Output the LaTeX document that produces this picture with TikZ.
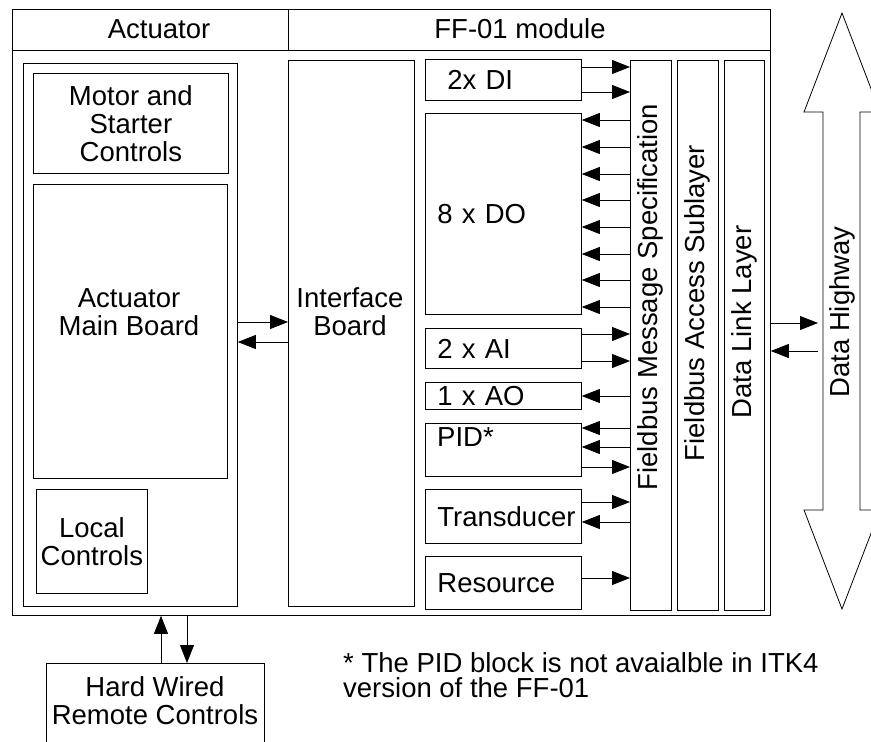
\documentclass[tikz,border=0pt]{standalone}
\usepackage{fontspec}
\setmainfont{Liberation Sans}
\usetikzlibrary{arrows.meta}
\tikzset{
	unit/.style={draw, line width=0.8pt, inner sep=0pt, anchor=north west, align=center, font=\fontsize{27.5}{28}\selectfont},
	fblock/.style={unit, text width=132pt, inner xsep=12pt, align=left, minimum height=#1},
	lbl/.style={inner sep=0pt, align=center, font=\fontsize{27.5}{28}\selectfont},
	vlbl/.style={lbl, rotate=90},
	sig/.style={line width=0.8pt, -{Triangle[length=18pt,width=14pt]}},
}
\newcommand{\unitat}[6] % name, left, top, width, height, text
{
	\node[unit, minimum width=#4pt, minimum height=#5pt] (#1) at (#2,#3) {#6};
}
\begin{document}
\begin{tikzpicture}[x=1pt, y=-1pt]
	\useasboundingbox (0,0) rectangle (871,742);
	\clip (0,0) rectangle (871,742);
	% outer frame with header row
	\unitat{acthdr}{12}{9}{276}{41}{}
	\unitat{ffhdr}{288}{9}{482}{41}{}
	\unitat{body}{12}{50}{758}{565}{}
	\node[lbl] (acthdrtxt) at (159,29) {Actuator};
	\node[lbl] (ffhdrtxt) at (520,29) {FF-01 module};

	% actuator side
	\unitat{act}{23}{63}{214}{543}{}
	\unitat{motor}{33}{73}{195}{100}{Motor and\\Starter\\Controls}
	\unitat{mainbd}{33}{184}{194}{294}{}
	\node[lbl] (mainbdtxt) at (129,312) {Actuator\\Main Board};
	\unitat{local}{36}{489}{111}{104}{Local\\Controls}

	% interface board
	\unitat{ifb}{288}{60}{126}{546}{}
	\node[lbl] (ifbtxt) at (350,312) {Interface\\Board};
	\draw[sig] (act.east |- 0,322) -- (ifb.west |- 0,322);
	\draw[sig] (ifb.west |- 0,342) -- (act.east |- 0,342);

	% function blocks
	\node[fblock=41pt] (di) at (425,59) {\hspace*{10pt}2x DI};
	\node[fblock=201pt] (dout) at (425,113) {8 x DO};
	\node[fblock=40pt] (ai) at (425,328) {2 x AI};
	\node[fblock=27pt] (ao) at (425,382) {1 x AO};
	\node[fblock=53pt] (pid) at (425,423) {};
	\node[lbl, anchor=west] (pidtxt) at (437,437) {PID*};
	\node[fblock=54pt] (trans) at (425,489) {Transducer};
	\node[fblock=53pt] (res) at (425,556) {Resource};

	% stack layers
	\unitat{fms}{630}{60}{41}{550}{}
	\unitat{fas}{677}{60}{41}{550}{}
	\unitat{dll}{724}{60}{40}{550}{}
	\node[vlbl] (fmstxt) at (650.5,297) {Fieldbus Message Specification};
	\node[vlbl] (fastxt) at (697.5,303) {Fieldbus Access Sublayer};
	\node[vlbl] (dlltxt) at (744,322) {Data Link Layer};

	% block <-> FMS signals
	\foreach \y in {67,92}
		\draw[sig] (di.east |- 0,\y) -- (fms.west |- 0,\y);
	\foreach \y in {120,147,174,200,227,254,280,307}
		\draw[sig] (fms.west |- 0,\y) -- (dout.east |- 0,\y);
	\foreach \y in {334,361}
		\draw[sig] (ai.east |- 0,\y) -- (fms.west |- 0,\y);
	\draw[sig] (fms.west |- 0,396) -- (ao.east |- 0,396);
	\foreach \y in {428,447}
		\draw[sig] (fms.west |- 0,\y) -- (pid.east |- 0,\y);
	\draw[sig] (pid.east |- 0,467) -- (fms.west |- 0,467);
	\draw[sig] (trans.east |- 0,502) -- (fms.west |- 0,502);
	\draw[sig] (fms.west |- 0,522) -- (trans.east |- 0,522);
	\draw[sig] (res.east |- 0,578) -- (fms.west |- 0,578);

	% data highway
	\draw[line width=0.8pt] (842,13) -- (880,112) -- (860,112) -- (860,510) -- (880,510) -- (842,609)
		-- (804,510) -- (823,510) -- (823,112) -- (804,112) -- cycle;
	\node[vlbl] (hwy) at (842,312) {Data Highway};
	\coordinate (hwyin) at (818,337);
	\draw[sig] (body.east |- 0,323) -- (hwyin |- 0,323);
	\draw[sig] (hwyin |- 0,351) -- (body.east |- 0,351);

	% remote controls
	\unitat{remote}{46}{663}{218}{100}{}
	\node[lbl] (remotetxt) at (155,701) {Hard Wired\\Remote Controls};
	\draw[sig] (remote.north -| 161,0) -- (body.south -| 161,0);
	\draw[sig] (body.south -| 187,0) -- (remote.north -| 187,0);

	% footnote
	\node[lbl, anchor=west, align=left, font=\fontsize{27.5}{25}\selectfont] (note) at (343,675.5)
		{* The PID block is not avaialble in ITK4\\version of the FF-01};
\end{tikzpicture}
\end{document}
